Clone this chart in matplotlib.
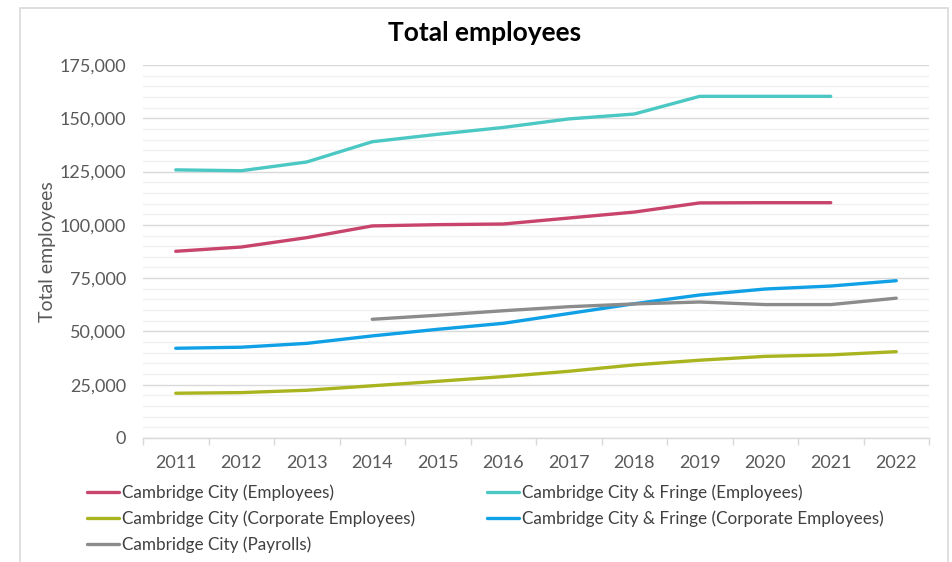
import matplotlib
matplotlib.use("Agg")
import matplotlib.pyplot as plt
from matplotlib.ticker import FuncFormatter, MultipleLocator
from matplotlib.patches import Rectangle
import numpy as np

years = ["2011", "2012", "2013", "2014", "2015", "2016", "2017", "2018", "2019", "2020", "2021", "2022"]

city_employees = [87600, 89600, 94000, 99500, 100100, 100400, 103200, 106000, 110300, 110400, 110400, None]
fringe_employees = [125800, 125400, 129500, 139000, 142500, 145700, 149700, 152000, 160300, 160300, 160300, None]
city_corporate = [21000, 21300, 22400, 24500, 26600, 28800, 31300, 34300, 36500, 38300, 39000, 40500]
fringe_corporate = [42100, 42600, 44400, 47900, 51000, 53800, 58400, 63000, 67100, 69900, 71300, 73800]
city_payrolls = [None, None, None, 55700, 57600, 59700, 61600, 62900, 63800, 62600, 62600, 65600]

series = [
    ("Cambridge City (Employees)", city_employees, "#C8446C"),
    ("Cambridge City & Fringe (Employees)", fringe_employees, "#4BC8C3"),
    ("Cambridge City (Corporate Employees)", city_corporate, "#AAB41E"),
    ("Cambridge City & Fringe (Corporate Employees)", fringe_corporate, "#0FA0E6"),
    ("Cambridge City (Payrolls)", city_payrolls, "#8C8C8C"),
]

plt.rcParams['font.family'] = ['Lato', 'DejaVu Sans']

W, H = 952, 562
fig = plt.figure(figsize=(W / 100, H / 100), dpi=100)
fig.patch.set_facecolor("white")

# chart border
fig.add_artist(Rectangle((20 / W, -0.05), (948 - 20) / W, 1.05 - 8 / H,
                         transform=fig.transFigure, fill=False,
                         edgecolor="#D9D9D9", linewidth=1.2))

left, right, top, bottom = 143, 929, 65, 438
ax = fig.add_axes([left / W, 1 - bottom / H, (right - left) / W, (bottom - top) / H])

x = np.arange(len(years))
handles = {}
for name, vals, col in series:
    y = np.array([np.nan if v is None else v for v in vals], dtype=float)
    ln, = ax.plot(x, y, color=col, linewidth=2.4, solid_capstyle="round", zorder=3)
    handles[name] = ln

ax.set_xlim(-0.5, len(years) - 0.5)
ax.set_ylim(0, 175000)
ax.yaxis.set_major_locator(MultipleLocator(25000))
ax.yaxis.set_minor_locator(MultipleLocator(5000))
ax.yaxis.set_major_formatter(FuncFormatter(lambda v, p: f"{int(v):,}"))
ax.grid(axis="y", which="major", color="#D9D9D9", linewidth=1.0, zorder=0)
ax.grid(axis="y", which="minor", color="#F0F0F0", linewidth=1.0, zorder=0)
ax.set_axisbelow(True)

ax.set_xticks(x)
ax.set_xticklabels(years)
ax.set_xticks(np.arange(-0.5, len(years), 1.0), minor=True)
ax.tick_params(axis="x", which="major", length=0, pad=12, labelsize=13, labelcolor="#595959")
ax.tick_params(axis="x", which="minor", length=5, color="#D9D9D9", width=1)
ax.tick_params(axis="y", which="both", length=0, pad=12, labelsize=13, labelcolor="#595959")

for s in ["top", "right", "left"]:
    ax.spines[s].set_visible(False)
ax.spines["bottom"].set_color("#D9D9D9")
ax.spines["bottom"].set_linewidth(1.0)

ax.set_ylabel("Total employees", fontsize=14, color="#595959")
ax.yaxis.set_label_coords((56 - left) / (right - left), 0.5)

fig.text(485 / W, 1 - 33 / H, "Total employees", ha="center", va="center",
         fontsize=19, fontweight="bold", color="#000000")

col1 = ["Cambridge City (Employees)", "Cambridge City (Corporate Employees)", "Cambridge City (Payrolls)"]
col2 = ["Cambridge City & Fringe (Employees)", "Cambridge City & Fringe (Corporate Employees)"]
common = dict(frameon=False, handlelength=1.9, handletextpad=0.15,
              labelspacing=0.56, borderaxespad=0, borderpad=0,
              prop={"size": 12.3}, labelcolor="#404040")
leg1 = fig.legend([handles[n] for n in col1], col1, loc="upper left",
                  bbox_to_anchor=(87 / W, 1 - 484 / H), **common)
leg2 = fig.legend([handles[n] for n in col2], col2, loc="upper left",
                  bbox_to_anchor=(487 / W, 1 - 484 / H), **common)

fig.savefig("out.png", dpi=100, facecolor="white")
